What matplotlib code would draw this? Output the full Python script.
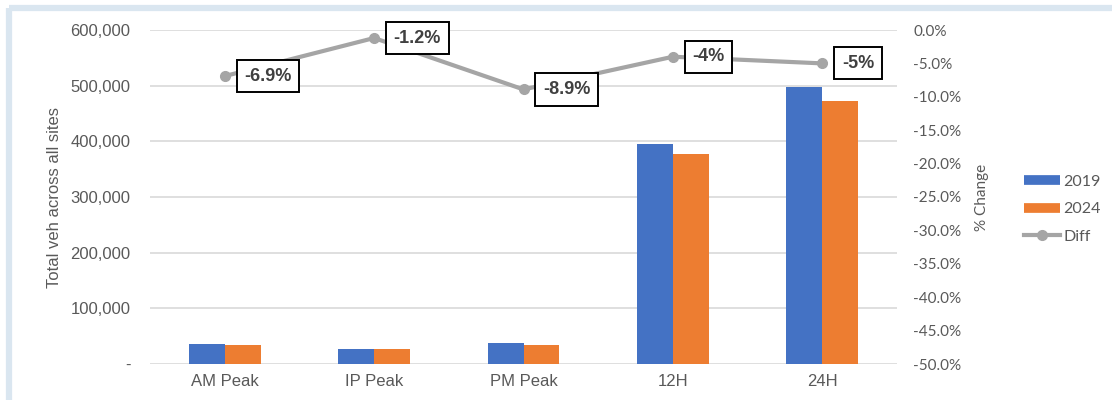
import matplotlib.pyplot as plt
from matplotlib.lines import Line2D
from matplotlib.ticker import FuncFormatter

# Traffic counts by period
periods = ["AM Peak", "IP Peak", "PM Peak", "12H", "24H"]
veh_2019 = [36000, 27500, 37500, 395000, 498000]
veh_2024 = [33500, 27000, 34000, 378000, 473000]
diff_pct = [-6.9, -1.2, -8.9, -4.0, -5.0]
diff_labels = ["-6.9%", "-1.2%", "-8.9%", "-4%", "-5%"]

blue = "#4472C4"
orange = "#ED7D31"
grey = "#A5A5A5"
tick_grey = "#595959"

fig = plt.figure(figsize=(11.12, 4.0), dpi=100)

# light blue frame along the top and left edge
frame = "#DAE6F0"
fig.add_artist(Line2D([0.0085, 1.0], [0.98, 0.98], transform=fig.transFigure,
                      color=frame, linewidth=4.5, solid_capstyle="butt"))
fig.add_artist(Line2D([0.0085, 0.0085], [0.0, 0.98], transform=fig.transFigure,
                      color=frame, linewidth=4.5, solid_capstyle="butt"))

ax = fig.add_axes([0.1349, 0.09, 0.6718, 0.835])
x = range(len(periods))
w = 0.24
ax.bar([i - w / 2 for i in x], veh_2019, width=w, color=blue, zorder=2)
ax.bar([i + w / 2 for i in x], veh_2024, width=w, color=orange, zorder=2)

ax.set_xlim(-0.5, len(periods) - 0.5)
ax.set_ylim(0, 600000)
ax.set_yticks(range(0, 600001, 100000))
ax.yaxis.set_major_formatter(FuncFormatter(lambda v, p: "-" if v == 0 else f"{int(v):,}"))
ax.grid(axis="y", color="#D9D9D9", linewidth=1.2, zorder=0)
for s in ax.spines.values():
    s.set_visible(False)
ax.tick_params(length=0, labelsize=12, labelcolor=tick_grey, pad=14)
ax.tick_params(axis="x", pad=7)
ax.set_xticks(list(x))
ax.set_xticklabels(periods, fontfamily="Liberation Sans")
for t in ax.get_yticklabels():
    t.set_fontfamily("Liberation Sans")
ax.set_ylabel("Total veh across all sites", fontsize=12, color=tick_grey,
              fontfamily="Liberation Sans", labelpad=6)

ax2 = ax.twinx()
ax2.plot(list(x), diff_pct, color=grey, linewidth=3, marker="o", markersize=7, zorder=3)
ax2.set_ylim(-50, 0)
ax2.set_yticks(range(-50, 1, 5))
ax2.yaxis.set_major_formatter(FuncFormatter(lambda v, p: f"{v:.1f}%"))
for s in ax2.spines.values():
    s.set_visible(False)
ax2.tick_params(length=0, labelsize=11, labelcolor=tick_grey, pad=11.5)
for t in ax2.get_yticklabels():
    t.set_fontfamily("Lato")
ax2.set_ylabel("% Change", fontsize=11, color=tick_grey, fontfamily="Lato", labelpad=10)

for xi, v, lab in zip(x, diff_pct, diff_labels):
    ax2.annotate(lab, (xi, v), xytext=(14, 0), textcoords="offset points",
                 ha="left", va="center", fontsize=13, fontweight="bold",
                 fontfamily="Liberation Sans", color="#404040",
                 bbox=dict(boxstyle="square,pad=0.42", fc="white", ec="black", lw=1.4))

handles = [Line2D([], [], color=blue, linewidth=7, solid_capstyle="butt"),
           Line2D([], [], color=orange, linewidth=7, solid_capstyle="butt"),
           Line2D([], [], color=grey, linewidth=3, marker="o", markersize=7)]
leg = fig.legend(handles, ["2019", "2024", "Diff"], loc="upper left",
                 bbox_to_anchor=(0.9075, 0.60), frameon=False, handlelength=2.3,
                 handletextpad=0.2, labelspacing=0.85,
                 prop={"family": "Lato", "size": 11.5})
for t in leg.get_texts():
    t.set_color(tick_grey)

fig.savefig("out.png", dpi=100)
